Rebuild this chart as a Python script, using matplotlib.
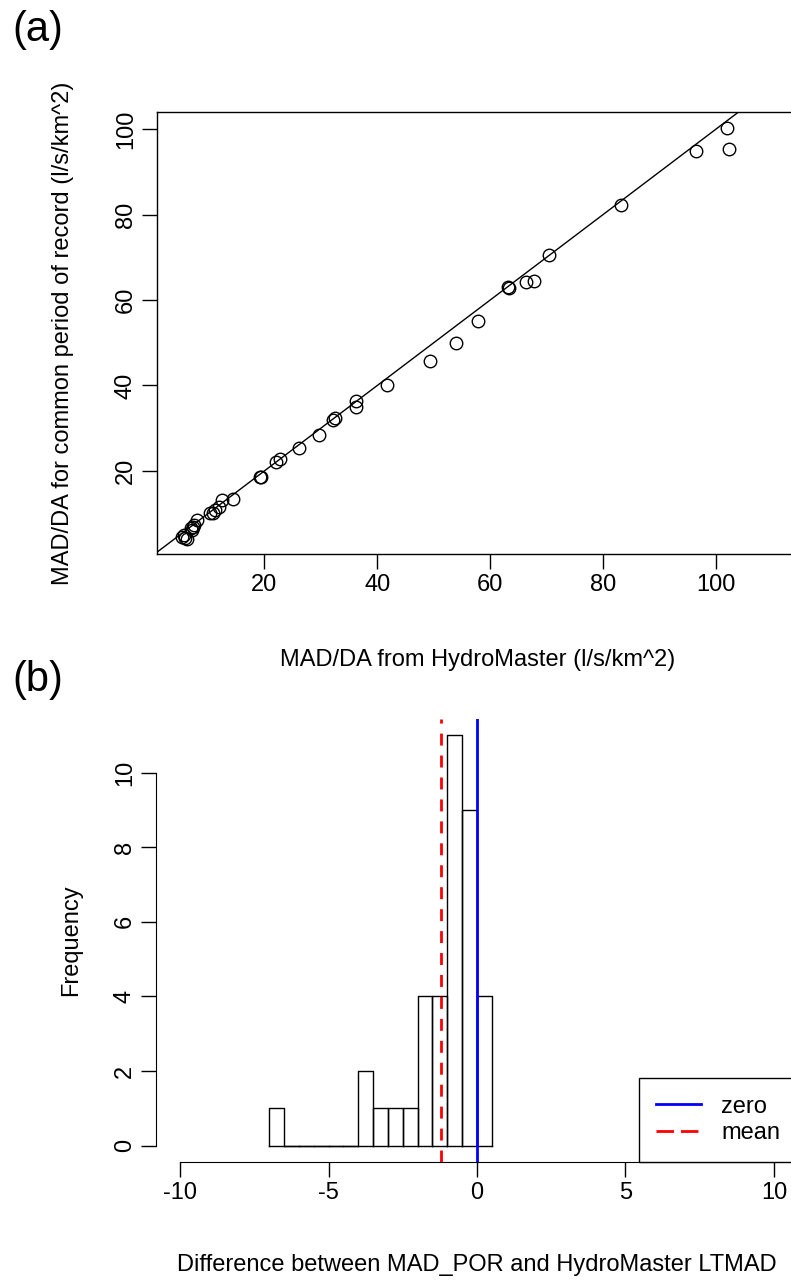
import numpy as np
import matplotlib.pyplot as plt
from matplotlib.lines import Line2D

plt.rcParams['font.family'] = ['Liberation Sans', 'DejaVu Sans']
plt.rcParams['axes.unicode_minus'] = False

# (a) MAD/DA: HydroMaster vs common period of record (l/s/km^2)
mad_hm = [5.4, 5.7, 6.0, 6.3, 7.0, 7.3, 7.5, 7.2, 8.1, 10.4, 10.9, 11.3, 11.9,
          12.5, 14.4, 19.2, 19.5, 22.0, 22.8, 26.2, 29.7, 32.2, 32.6, 36.2,
          36.2, 41.7, 49.3, 53.9, 57.8, 63.1, 63.3, 66.3, 67.7, 70.4, 83.1,
          96.5, 102.0, 102.2]
mad_por = [4.6, 5.0, 4.3, 4.2, 6.6, 7.0, 7.4, 6.3, 8.5, 10.1, 10.2, 10.9, 11.5,
           13.2, 13.4, 18.5, 18.7, 22.2, 22.7, 25.3, 28.4, 31.9, 32.3, 36.4,
           35.0, 40.1, 45.7, 50.0, 55.1, 63.1, 62.9, 64.3, 64.4, 70.5, 82.2,
           94.9, 100.2, 95.4]

# (b) histogram of differences (MAD_POR - HydroMaster LTMAD)
bin_edges = [-7.0, -6.5, -6.0, -5.5, -5.0, -4.5, -4.0, -3.5, -3.0, -2.5,
             -2.0, -1.5, -1.0, -0.5, 0.0, 0.5]
bin_counts = [1, 0, 0, 0, 0, 0, 2, 1, 1, 1, 4, 4, 11, 9, 4]
mean_diff = -1.21

FS = 17
W, H = 791, 1280
fig = plt.figure(figsize=(W / 100, H / 100), dpi=100)


def px_axes(left, top, right, bottom):
    return fig.add_axes([left / W, 1 - bottom / H, (right - left) / W, (bottom - top) / H])


def r_style(ax):
    ax.tick_params(direction='out', length=10.5, width=1, labelsize=FS, pad=4, color='black')
    ax.tick_params(axis='y', labelrotation=90)
    for lab in ax.get_yticklabels():
        lab.set_va('center')


# ---- panel (a)
ax1 = px_axes(157, 112, 798, 554)
ax1.plot(mad_hm, mad_por, 'o', mfc='none', mec='black', ms=9, mew=1, clip_on=False)
ax1.axline((0, 0), slope=1, color='black', lw=1)
ax1.set_xlim(1.0, 114.5)
ax1.set_ylim(0.58, 103.98)
ax1.set_xticks([20, 40, 60, 80, 100])
ax1.set_yticks([20, 40, 60, 80, 100])
for s in ax1.spines.values():
    s.set_linewidth(1)
r_style(ax1)
ax1.set_xlabel('MAD/DA from HydroMaster (l/s/km^2)', fontsize=FS)
ax1.set_ylabel('MAD/DA for common period of record (l/s/km^2)', fontsize=FS)
ax1.xaxis.set_label_coords(0.5, -(660 - 554) / 442)
ax1.xaxis.label.set_va('center')
ax1.yaxis.set_label_coords(-(157 - 63) / 641, 0.5)
ax1.yaxis.label.set_va('center')

# ---- panel (b)
ax2 = px_axes(156, 719, 798, 1162)
for left, right, c in zip(bin_edges[:-1], bin_edges[1:], bin_counts):
    ax2.plot([left, left, right, right], [0, c, c, 0], color='black', lw=1)
ax2.plot([bin_edges[0], bin_edges[-1]], [0, 0], color='black', lw=1)
ax2.axvline(0, color='blue', lw=2)
ax2.axvline(mean_diff, color='red', lw=2, dashes=(4.3, 3.6))
ax2.set_xlim(-10.81, 10.81)
ax2.set_ylim(-0.44, 11.44)
ax2.set_xticks([-10, -5, 0, 5, 10])
ax2.set_yticks([0, 2, 4, 6, 8, 10])
for side in ['top', 'right']:
    ax2.spines[side].set_visible(False)
ax2.spines['bottom'].set_bounds(-10, 10)
ax2.spines['left'].set_bounds(0, 10)
r_style(ax2)
ax2.set_xlabel('Difference between MAD_POR and HydroMaster LTMAD', fontsize=FS)
ax2.set_ylabel('Frequency', fontsize=FS)
ax2.xaxis.set_label_coords(0.5, -(1265 - 1162) / 443)
ax2.xaxis.label.set_va('center')
ax2.yaxis.set_label_coords(-(156 - 71) / 642, 0.5)
ax2.yaxis.label.set_va('center')

handles = [Line2D([], [], color='blue', lw=2),
           Line2D([], [], color='red', lw=2, dashes=(6.3, 2.5))]
leg = ax2.legend(handles, ['zero', 'mean'], loc='lower right', bbox_to_anchor=(1, 0),
                 borderaxespad=0, fancybox=False, framealpha=1, edgecolor='black',
                 fontsize=FS, handlelength=1.9, handletextpad=0.85, labelspacing=0.2,
                 borderpad=0.75)
leg.get_frame().set_linewidth(1)

fig.text(12 / W, 1 - 30 / H, '(a)', fontsize=30, va='center', ha='left')
fig.text(12 / W, 1 - 680 / H, '(b)', fontsize=30, va='center', ha='left')

plt.savefig('out.png', dpi=100)
